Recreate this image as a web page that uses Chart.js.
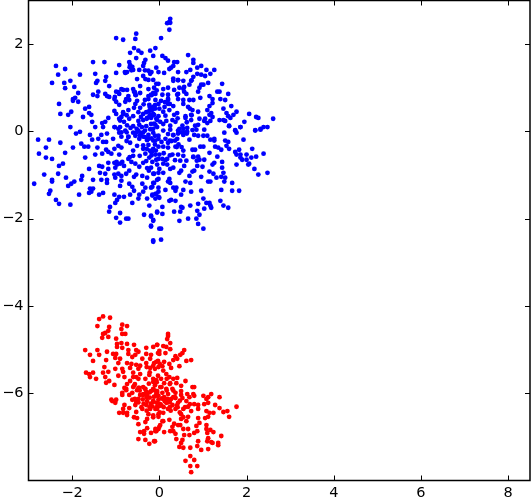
<!DOCTYPE html>
<html lang="en">
<head>
  <meta charset="UTF-8" />
  <title>Two clusters</title>
  <script src="https://cdn.jsdelivr.net/npm/chart.js"></script>
  <style>
    body { margin: 0; padding: 0; background: #fff; }
    canvas { display: block; }
  </style>
</head>
<body>
  <canvas id="chart" width="531" height="497"></canvas>

  <script>
    const xTickValues = [-2, 0, 2, 4, 6, 8];
    const yTickValues = [-6, -4, -2, 0, 2];

    // values, [x, y]
    const bluePoints = [
      [-2.46,1.11],[-2.37,1.50],[-2.32,1.30],[-2.16,1.43],[-2.18,1.11],[-2.04,1.16],[-2.16,0.99],[-1.95,1.02],
      [-1.82,1.30],[-1.86,0.88],[-1.93,0.77],[-1.98,0.74],[-1.86,0.68],[-1.98,0.70],[-2.30,0.63],[-2.27,0.40],
      [-2.09,0.38],[-2.02,0.45],[-1.70,0.52],[-1.61,0.56],[-1.61,0.42],[-1.56,0.38],[-1.75,0.33],[-2.04,0.10],
      [-1.52,1.59],[-1.26,1.59],[-1.47,1.32],[-1.42,1.16],[-1.45,1.11],[-1.22,1.25],[-1.24,1.16],[-1.15,1.04],
      [-1.40,0.91],[-1.52,0.84],[-1.42,0.81],[-1.24,0.86],[-1.20,0.81],[-1.15,0.79],[-0.99,0.91],[-0.87,0.97],
      [-0.83,0.95],[-0.74,0.95],[-0.92,0.86],[-0.71,0.81],[-0.76,0.74],[-0.69,0.72],[-0.78,0.68],[-1.03,0.74],
      [-0.99,0.68],[-0.92,0.61],[-1.03,0.47],[-0.99,0.40],[-0.83,0.40],[-0.71,0.49],[-0.92,0.29],[-0.87,0.33],
      [-1.17,0.31],[-1.24,0.22],[-1.31,0.19],[-1.47,0.10],[-1.54,0.22],[-0.99,2.14],[-0.83,2.10],[-0.53,2.24],
      [-0.55,2.12],[-0.58,1.91],[-0.48,1.85],[-0.67,1.80],[-0.41,1.80],[-0.53,1.68],[-0.32,1.64],[-0.21,1.85],
      [-0.09,1.91],[-0.14,1.73],[-0.92,1.52],[-0.69,1.59],[-0.67,1.52],[-0.62,1.48],[-0.99,1.34],[-0.78,1.34],
      [-0.74,1.36],[-0.60,1.41],[-0.35,1.57],[-0.37,1.50],[-0.46,1.41],[-0.37,1.27],[-0.25,1.39],[-0.07,1.46],
      [-0.21,1.32],[-0.02,1.36],[-0.51,1.20],[-0.32,1.20],[-0.25,1.18],[-0.44,1.04],[-0.60,0.97],[-0.58,0.91],
      [-0.55,0.84],[-0.44,0.88],[-0.25,0.97],[-0.12,1.00],[-0.14,0.88],[-0.02,1.09],[-0.25,0.81],[-0.51,0.70],
      [-0.55,0.63],[-0.58,0.54],[-0.44,0.54],[-0.25,0.74],[-0.23,0.61],[-0.09,0.72],[-0.02,0.63],[-0.37,0.40],
      [-0.23,0.47],[-0.12,0.38],[-0.60,0.35],[-0.69,0.29],[-0.81,0.22],[-1.03,0.10],[-0.37,0.26],[-0.28,0.31],
      [-0.05,0.26],[-0.19,0.17],[-0.46,0.15],[-0.60,0.12],[-0.90,0.10],[-1.29,0.10],
      [0.25,2.58],[0.23,2.51],[0.18,2.48],[0.25,2.49],[0.23,2.33],[0.04,2.14],[0.66,1.75],[0.07,1.73],
      [0.14,1.68],[0.20,1.62],[0.34,1.59],[0.41,1.59],[0.78,1.64],[0.78,1.57],[0.96,1.50],[0.32,1.50],
      [0.27,1.46],[0.23,1.43],[0.87,1.46],[1.08,1.41],[1.26,1.41],[0.43,1.36],[0.62,1.36],[0.71,1.41],
      [0.11,1.34],[0.87,1.32],[0.96,1.30],[1.05,1.27],[1.17,1.32],[0.78,1.25],[0.32,1.16],[0.43,1.18],
      [0.55,1.16],[0.73,1.16],[1.12,1.11],[1.44,1.09],[0.69,1.07],[0.57,1.02],[0.96,1.07],[1.01,1.07],
      [0.92,1.00],[0.46,1.00],[0.20,1.00],[0.09,0.97],[-0.07,1.09],[-0.14,1.18],[0.34,0.95],[0.89,0.91],
      [1.33,0.91],[1.38,0.91],[1.58,0.86],[0.57,0.91],[0.62,0.86],[1.15,0.81],[1.22,0.74],[1.40,0.74],
      [1.51,0.72],[0.94,0.77],[0.41,0.84],[0.20,0.84],[0.07,0.84],[0.43,0.74],[0.55,0.72],[0.69,0.72],
      [0.78,0.72],[0.20,0.72],[-0.09,0.86],[-0.19,0.84],[1.22,0.65],[1.15,0.58],[1.65,0.58],[1.47,0.52],
      [0.55,0.63],[0.20,0.63],[0.32,0.58],[0.66,0.56],[0.76,0.49],[0.89,0.45],[1.10,0.49],[1.19,0.42],
      [1.54,0.42],[1.77,0.45],[2.06,0.40],[1.58,0.35],[1.70,0.38],[1.63,0.31],[2.22,0.33],[2.27,0.31],
      [2.61,0.29],[1.95,0.22],[1.86,0.10],[1.74,0.03],[1.60,0.13],[1.38,0.26],[1.47,0.26],[1.51,0.24],
      [1.05,0.29],[0.92,0.29],[1.22,0.33],[1.15,0.38],[1.03,0.24],[1.17,0.24],[1.10,0.19],[0.89,0.15],
      [0.82,0.13],[0.73,0.38],[0.73,0.26],[0.60,0.35],[0.60,0.31],[0.41,0.42],[0.23,0.49],[0.34,0.38],
      [0.09,0.45],[0.00,0.52],[-0.14,0.56],[0.37,0.22],[0.53,0.13],[0.25,0.13],[0.16,0.24],[-0.02,0.35],
      [-0.14,0.40],[-0.19,0.31],[-0.07,0.29],[0.09,0.17],[-0.09,0.15],[0.64,0.08],[0.76,0.03],[0.46,0.06],
      [2.20,0.03],[2.32,0.06],[2.39,0.10],[2.48,0.10],
      [-2.78,-0.19],[-2.53,-0.19],[-2.27,-0.26],[-2.60,-0.37],[-2.76,-0.51],[-2.16,-0.49],[-1.98,-0.37],[-2.60,-0.60],
      [-2.46,-0.63],[-2.21,-0.74],[-2.30,-0.79],[-2.64,-0.99],[-2.32,-0.97],[-2.46,-1.11],[-2.46,-1.15],[-2.87,-1.20],
      [-2.14,-1.06],[-1.95,-1.15],[-2.02,-1.20],[-2.09,-1.25],[-2.50,-1.36],[-2.53,-1.43],[-2.37,-1.57],[-2.30,-1.66],
      [-2.04,-1.68],[-1.84,-1.45],[-1.77,-1.02],[-1.79,-1.11],[-1.61,-0.86],[-1.70,-0.60],[-1.47,-0.53],[-1.79,-0.28],
      [-1.72,-0.35],[-1.63,-0.35],[-1.42,-0.37],[-1.91,-0.05],[-1.82,-0.01],[-1.59,-0.08],[-1.54,-0.19],[-1.40,-0.17],
      [-1.31,-0.51],[-1.22,-0.42],[-1.17,-0.47],[-1.10,-0.51],[-1.03,-0.40],[-0.94,-0.33],[-1.29,-0.24],[-1.22,-0.24],
      [-0.87,-0.37],[-0.92,-0.53],[-0.67,-0.26],[-1.33,-0.08],[-1.20,-0.05],[-1.06,-0.17],[-0.92,-0.03],[-0.87,-0.12],
      [-0.78,0.02],[-0.71,-0.12],[-0.60,-0.03],[-0.48,0.02],[-0.46,-0.17],[-0.37,-0.12],[-0.25,-0.08],[-0.14,-0.03],
      [-0.02,-0.17],[-0.51,-0.33],[-0.37,-0.40],[-0.25,-0.31],[-0.14,-0.40],[-0.02,-0.35],[-0.32,-0.51],[-0.23,-0.60],
      [-0.09,-0.53],[-0.02,-0.63],[-0.60,-0.56],[-0.71,-0.63],[-0.64,-0.70],[-0.55,-0.74],[-0.46,-0.81],[-0.37,-0.72],
      [-1.17,-0.72],[-1.03,-0.72],[-0.97,-0.76],[-1.01,-0.83],[-1.17,-0.86],[-1.38,-0.79],[-1.31,-0.81],[-0.81,-0.79],
      [-0.69,-0.90],[-1.36,-0.95],[-1.24,-0.97],[-1.03,-0.99],[-0.94,-0.97],[-1.01,-1.06],[-0.87,-1.02],[-0.76,-0.97],
      [-0.53,-0.99],[-0.58,-1.04],[-0.39,-1.02],[-0.28,-1.06],[-0.14,-0.97],[-0.02,-0.95],[-1.52,-1.11],[-1.33,-1.11],
      [-1.20,-1.11],[-1.20,-1.18],[-0.87,-1.13],[-0.90,-1.25],[-0.69,-1.20],[-0.62,-1.27],[-0.58,-1.36],[-0.39,-1.20],
      [-0.32,-1.29],[-0.37,-1.38],[-0.14,-1.18],[-0.19,-1.29],[-0.05,-1.11],[-0.02,-1.29],[-1.59,-1.31],[-1.52,-1.31],
      [-1.56,-1.38],[-1.61,-1.41],[-1.38,-1.45],[-1.29,-1.41],[-1.03,-1.45],[-0.92,-1.50],[-0.81,-1.50],[-0.97,-1.57],
      [-1.01,-1.64],[-1.13,-1.73],[-1.15,-1.84],[-0.90,-1.87],[-0.99,-1.98],[-0.90,-2.09],[-0.76,-2.00],[-0.71,-2.00],
      [-0.67,-1.45],[-0.46,-1.45],[-0.48,-1.54],[-0.62,-1.64],[-0.28,-1.54],[-0.16,-1.45],[-0.07,-1.43],[-0.02,-1.50],
      [-0.23,-1.70],[-0.05,-1.84],[-0.35,-1.91],[-0.19,-1.93],[-0.14,-2.03],[-0.19,-2.16],[-0.14,-2.53],[0.00,-2.23],
      [1.60,0.12],[1.86,0.10],[1.49,-0.03],[1.74,0.02],[1.77,-0.03],[2.20,0.02],[2.32,0.04],[1.93,-0.19],
      [1.51,-0.21],[1.58,-0.24],[1.54,-0.33],[1.60,-0.40],[2.13,-0.40],[2.39,-0.51],[1.83,-0.42],[1.74,-0.47],
      [1.77,-0.53],[1.86,-0.53],[2.00,-0.53],[1.86,-0.60],[1.90,-0.65],[2.00,-0.65],[2.11,-0.60],[2.22,-0.58],
      [2.06,-0.74],[2.04,-0.76],[1.77,-0.76],[2.18,-0.86],[2.27,-0.99],[2.48,-0.95],[1.67,-1.18],[1.67,-1.36],
      [1.83,-1.36],[1.42,-1.34],[1.40,-1.59],[1.47,-1.70],[1.58,-1.75],[1.44,-0.70],[1.33,-0.58],[1.44,-0.83],
      [1.47,-0.95],[1.42,-1.04],[1.51,-1.06],[1.49,-1.15],[1.31,-1.06],[1.24,-0.97],[1.15,-0.92],[1.17,-1.15],
      [1.12,-1.15],[1.22,-0.76],[1.26,-0.72],[1.03,-0.65],[0.89,-0.58],[0.92,-0.65],[0.78,-0.58],[0.99,-0.81],
      [0.87,-0.79],[0.80,-0.90],[0.76,-0.92],[0.69,-1.02],[0.96,-1.04],[0.57,-0.79],[0.50,-0.90],[0.46,-0.95],
      [0.32,-0.83],[0.25,-0.86],[0.60,-1.15],[0.71,-1.18],[0.39,-1.29],[0.32,-1.29],[0.37,-1.36],[0.55,-1.34],
      [0.50,-1.45],[0.73,-1.38],[0.96,-1.36],[0.14,-1.34],[-0.02,-1.38],[-0.09,-1.43],[-0.16,-1.47],[0.00,-1.52],
      [-0.09,-1.54],[1.01,-1.54],[1.08,-1.64],[1.15,-1.64],[0.89,-1.66],[1.17,-1.70],[1.19,-1.75],[1.03,-1.77],
      [0.71,-1.70],[0.53,-1.75],[0.50,-1.73],[0.48,-1.84],[0.34,-1.84],[0.37,-1.59],[0.27,-1.57],[0.23,-1.59],
      [0.07,-1.73],[-0.05,-1.86],[0.07,-1.89],[-0.19,-1.95],[-0.14,-2.05],[0.46,-2.05],[0.66,-2.00],[0.85,-2.00],
      [0.89,-2.12],[1.01,-2.23],[0.87,-1.82],[0.92,-1.91],[0.04,-2.23],[-0.19,-2.18],[0.04,-2.48],[-0.14,-2.50],
      [0.20,-1.15],[0.25,-1.18],[0.23,-1.09],[0.09,-0.95],[0.00,-0.86],[-0.12,-0.97],[-0.02,-1.09],[-0.16,-1.27],
      [-0.12,-1.18],[-0.19,-0.83],[0.09,-0.74],[0.18,-0.76],[0.07,-0.63],[-0.07,-0.65],[-0.16,-0.70],[0.18,-0.63],
      [0.30,-0.53],[0.43,-0.53],[0.55,-0.56],[0.48,-0.67],[0.62,-0.67],[0.55,-0.44],[0.76,-0.42],[0.82,-0.42],
      [0.94,-0.35],[1.01,-0.35],[1.15,-0.49],[1.28,-0.35],[1.35,-0.37],[1.42,-0.42],[1.26,-0.17],[1.26,-0.21],
      [1.10,-0.10],[1.17,-0.19],[0.89,-0.10],[1.01,-0.10],[1.03,0.04],[0.85,0.04],[0.80,-0.08],[0.69,-0.19],
      [0.55,-0.08],[0.41,-0.17],[0.37,-0.35],[0.20,-0.37],[0.09,-0.35],[0.00,-0.53],[-0.14,-0.44],[-0.09,-0.21],
      [-0.02,-0.10],[0.09,0.02],[-0.14,0.06],[0.25,0.04],[0.32,-0.08],[0.43,-0.05],[0.55,0.06],[0.64,-0.01],
      [0.14,-0.17],[0.20,-0.26],
      [-0.30,0.12],[-0.21,0.05],[-0.33,0.02],[-0.42,-0.04],[-0.10,-0.10],[-0.28,-0.20],[-0.18,-0.16],[-0.05,0.10],
      [0.02,0.22],[-0.30,0.44],[-0.16,0.50],[-0.36,0.62],[-0.10,0.60],[0.04,0.70],[-0.33,0.72],[-0.42,0.33],
      [-0.48,0.44],[-0.12,0.18],[0.14,0.36],[0.12,0.56],[0.30,0.26],[0.42,0.30],[0.20,-0.06],[0.05,-0.24],
      [-0.55,-0.10],[-0.66,0.08],[-0.74,0.14],[-0.48,0.24],[-0.75,-0.22],[-0.60,-0.44],[-0.45,-0.56],[-0.30,-0.68],
      [-0.18,-0.48],[-0.05,-0.76],[-0.28,-0.84],[-0.10,-0.30],[0.10,-0.50],[0.28,-0.22],[0.44,-0.30],[-0.85,-0.70],
      [-0.52,0.06],[-0.40,0.10],[-0.08,-0.44],[0.14,-0.66],[-0.24,-0.90],[0.36,-0.66],
      [-0.18,0.48],[-0.29,0.29],[-0.14,0.37],[-0.22,0.56],[-0.10,0.52],[-0.22,0.37],[-0.56,0.90],[-0.54,0.83],
      [-0.14,0.86],[-0.06,0.94],[-0.18,0.83],[-0.75,0.37],[-0.83,0.44],[-0.90,0.25],[-1.02,0.79],[-0.94,0.90],
      [-0.68,1.47],[-0.64,1.40],[-0.33,1.40],[-0.18,1.36],[-0.79,1.36],[0.32,1.21],[0.43,1.17],[0.55,0.98],
      [0.74,1.17],[0.24,0.63],[0.20,0.75],[0.13,0.67],[0.43,0.86],[0.70,0.52],[0.74,0.37],[0.63,0.21],
      [0.59,-0.02],[0.51,-0.02],[0.63,-0.05],[0.43,0.02],[0.32,-0.09],[0.24,-0.21],[0.36,-0.21],[-0.37,-0.02],
      [-0.45,-0.09],[-0.33,-0.13],[-0.25,-0.17],[-0.14,-0.21],[-0.52,-0.02],[-0.75,-0.02],[-0.71,-0.13],[-0.87,-0.02],
      [-0.94,0.06],[-1.02,0.10],[-0.22,-0.44],[-0.29,-0.40],[-0.18,-0.55],[-0.37,-0.32],[-0.68,-0.59],[-0.90,-0.74],
      [-0.98,-0.70],[0.78,-0.59],[0.86,-0.67],[0.40,-0.36],[0.51,-0.36],[0.24,-0.55]
    ];

    const redPoints = [
      [-1.29,-4.24],[-1.38,-4.30],[-1.13,-4.27],[-1.42,-4.46],[-1.15,-4.48],[-0.85,-4.43],[-0.74,-4.46],[-0.87,-4.53],
      [-1.17,-4.57],[-1.24,-4.62],[-1.29,-4.64],[-0.85,-4.64],[-0.78,-4.64],[-1.17,-4.71],[-1.31,-4.73],[-0.99,-4.75],
      [-0.87,-4.85],[-0.97,-4.87],[-0.97,-4.94],[-0.74,-4.87],[-0.58,-4.89],[-0.85,-4.96],[-1.70,-5.01],[-1.42,-5.01],
      [-1.59,-5.12],[-1.38,-5.12],[-1.20,-5.05],[-1.52,-5.26],[-1.22,-5.24],[-1.06,-5.10],[-0.99,-5.10],[-1.01,-5.19],
      [-0.71,-5.01],[-0.71,-5.10],[-0.53,-5.01],[-0.48,-5.05],[-0.30,-4.96],[-0.14,-4.94],[-0.05,-4.89],[-0.55,-5.12],
      [-0.30,-5.10],[-0.19,-5.12],[-0.03,-5.08],[-0.90,-5.21],[-0.62,-5.17],[-0.39,-5.21],[-0.21,-5.21],[-1.26,-5.40],
      [-0.94,-5.31],[-0.74,-5.31],[-0.64,-5.33],[-0.53,-5.35],[-0.44,-5.37],[-1.01,-5.44],[-0.85,-5.44],[-0.67,-5.42],
      [-0.48,-5.44],[-0.30,-5.31],[-0.12,-5.31],[-0.03,-5.26],[-0.21,-5.42],[-1.68,-5.53],[-1.61,-5.56],[-1.52,-5.53],
      [-1.59,-5.63],[-1.45,-5.67],[-1.29,-5.53],[-1.17,-5.51],[-1.24,-5.63],[-1.15,-5.72],[-1.22,-5.76],[-1.03,-5.81],
      [-0.94,-5.60],[-0.83,-5.51],[-0.80,-5.63],[-0.60,-5.53],[-0.53,-5.63],[-0.44,-5.56],[-0.67,-5.72],[-0.74,-5.79],
      [-0.58,-5.83],[-0.32,-5.67],[-0.23,-5.58],[-0.14,-5.74],[-0.03,-5.60],[-0.85,-5.99],[-0.76,-5.90],[-0.46,-5.88],
      [-0.37,-5.86],[-0.30,-5.97],[-0.14,-5.90],[-0.05,-5.99],[-0.62,-5.99],
      [-0.80,-5.88],[-0.76,-5.93],[-0.85,-6.04],[-0.69,-6.04],[-0.60,-5.86],[-0.48,-5.88],[-0.51,-5.93],[-1.10,-6.15],
      [-1.08,-6.18],[-0.99,-6.15],[-1.01,-6.22],[-0.62,-6.15],[-0.48,-6.13],[-0.53,-6.20],[-0.55,-6.27],[-0.80,-6.27],
      [-0.69,-6.34],[-0.83,-6.36],[-0.92,-6.45],[-0.83,-6.45],[-0.74,-6.45],[-0.74,-6.50],[-0.53,-6.43],[-0.58,-6.55],
      [-0.51,-6.57],[-0.39,-6.36],[-0.28,-6.04],[-0.37,-6.04],[-0.32,-5.90],[-0.19,-5.95],[-0.07,-6.02],[-0.28,-6.18],
      [-0.14,-6.20],[-0.02,-6.15],[-0.30,-6.27],[-0.21,-6.36],[-0.09,-6.36],[0.00,-6.29],[-0.25,-6.48],[-0.14,-6.55],
      [-0.02,-6.48],[-0.28,-6.59],[-0.32,-6.66],[-0.48,-6.71],[-0.28,-6.80],[-0.44,-6.89],[-0.35,-6.87],[-0.35,-6.93],
      [-0.19,-6.91],[-0.09,-6.87],[-0.09,-6.82],[0.00,-6.77],[-0.48,-7.05],[-0.32,-7.07],[-0.23,-7.16],[-0.12,-7.10],
      [0.20,-4.64],[0.20,-4.69],[0.18,-4.76],[0.25,-4.85],[-0.05,-4.89],[0.09,-4.92],[0.16,-4.94],[0.25,-4.99],
      [0.00,-5.03],[0.00,-5.10],[0.14,-5.08],[0.57,-5.01],[0.53,-5.08],[0.48,-5.12],[0.37,-5.15],[0.41,-5.21],
      [0.32,-5.24],[0.62,-5.26],[0.73,-5.24],[-0.07,-5.28],[0.11,-5.28],[0.23,-5.33],[0.46,-5.38],[0.07,-5.38],
      [-0.02,-5.40],[0.27,-5.42],[-0.10,-5.44],[0.16,-5.56],[0.23,-5.63],[0.04,-5.67],[0.32,-5.67],[0.41,-5.65],
      [-0.07,-5.70],[0.11,-5.77],[0.25,-5.77],[0.39,-5.77],[0.60,-5.72],[0.50,-5.83],[0.76,-5.86],[0.80,-5.86],
      [0.02,-5.86],[0.16,-5.90],[0.30,-5.90],[0.50,-5.95],[-0.05,-5.95],[0.07,-5.99],[0.20,-6.02],[0.37,-5.99],
      [0.50,-6.04],[0.64,-6.02],[0.78,-6.02],[0.80,-6.06],[1.01,-6.06],[1.19,-6.02],[1.38,-6.09],[1.12,-6.09],
      [1.08,-6.13],[-0.05,-6.06],[0.11,-6.09],[0.32,-6.09],
      [1.77,-6.31],[1.60,-6.54],[1.56,-6.41],[1.47,-6.43],[1.38,-6.34],[1.28,-6.27],[1.24,-6.45],[1.15,-6.45],
      [1.08,-6.41],[1.12,-6.54],[1.05,-6.57],[0.89,-6.57],[0.92,-6.68],[0.66,-6.54],[0.89,-6.27],[0.80,-6.25],
      [0.62,-6.18],[0.53,-6.11],[0.66,-6.31],[0.55,-6.36],[0.50,-6.59],[0.62,-6.64],[0.48,-6.73],[0.66,-6.82],
      [0.55,-6.82],[0.85,-6.75],[0.80,-6.91],[0.87,-6.87],[1.08,-6.73],[1.08,-6.82],[1.10,-6.91],[1.17,-6.84],
      [1.24,-6.89],[1.42,-6.98],[1.12,-7.03],[1.10,-7.10],[1.19,-7.12],[1.22,-7.14],[1.35,-7.14],[1.35,-7.19],
      [0.89,-7.10],[0.87,-7.21],[0.96,-7.30],[1.12,-7.28],[0.69,-6.96],[0.57,-6.96],[0.53,-7.07],[0.50,-7.14],
      [0.46,-7.23],[0.55,-7.25],[0.71,-7.25],[0.39,-7.05],[0.37,-6.93],[0.32,-6.87],[0.30,-6.77],[0.25,-6.87],
      [0.11,-6.89],[0.02,-6.73],[-0.02,-6.82],[-0.07,-6.87],[-0.10,-7.10],[0.09,-6.64],[0.34,-6.70],[0.43,-6.73],
      [0.71,-7.44],[0.80,-7.53],[0.60,-7.55],[0.87,-7.67],[0.71,-7.67],[0.73,-7.81],[0.23,-6.61],[-0.02,-6.54],
      [0.07,-6.64],[0.50,-6.48],[0.37,-6.36],[0.20,-6.36],[0.09,-6.45],[-0.05,-6.36],[0.02,-6.25],[0.16,-6.22],
      [0.30,-6.27],[0.43,-6.22],[0.27,-6.13],[0.37,-6.11],[0.18,-6.13],[0.69,-6.09],[0.89,-6.36],[0.73,-6.41],
      [1.03,-6.25],[1.12,-6.22],
      [-0.22,-6.10],[-0.12,-6.08],[-0.20,-6.24],[-0.06,-6.22],[-0.38,-6.14],[-0.16,-6.30],[0.06,-6.12],[0.12,-6.18],
      [0.24,-6.20],[-0.36,-6.24],[-0.44,-6.04],[-0.10,-5.82],[-0.24,-5.78],[0.10,-6.32],[0.26,-6.40],[0.42,-6.32],
      [-0.60,-5.63],[-0.48,-5.67],[-0.56,-5.79],[-0.22,-5.52],[-0.14,-5.67],[-0.06,-5.75],[-0.33,-5.90],[-0.22,-5.98],
      [-0.10,-5.94],[0.05,-5.86],[0.17,-5.94],[0.32,-5.94],[-0.29,-6.09],[-0.14,-6.17],[-0.02,-6.06],[0.09,-6.13],
      [0.20,-6.21],[0.36,-6.09],[0.47,-6.17],[-0.22,-6.32],[-0.06,-6.32],[0.05,-6.28],[0.24,-6.32],[0.40,-6.28],
      [0.59,-6.32],[0.70,-6.25],[-0.14,-6.51],[0.01,-6.44],[0.47,-6.44],[0.55,-6.55],[-0.29,-6.40],[-0.41,-6.32],
      [-0.48,-6.21],[-0.56,-6.13],[-0.37,-6.02],[-0.45,-5.94],[0.09,-5.48],[0.01,-5.33],[-0.29,-5.40],[-0.14,-5.37],
      [0.17,-5.67],[0.24,-5.79]
    ];

    const toXY = pts => pts.map(p => ({ x: p[0], y: p[1] }));

    // matplotlib style frame with ticks pointing inwards on all four sides
    const frameTicks = {
      id: 'frameTicks',
      afterDraw(chart) {
        const { ctx, chartArea: a, scales } = chart;
        const len = 5;
        ctx.save();
        ctx.strokeStyle = '#000';
        ctx.lineWidth = 1;
        xTickValues.forEach(v => {
          const px = Math.round(scales.x.getPixelForValue(v)) + 0.5;
          ctx.beginPath();
          ctx.moveTo(px, a.bottom); ctx.lineTo(px, a.bottom - len);
          ctx.moveTo(px, a.top); ctx.lineTo(px, a.top + len);
          ctx.stroke();
        });
        yTickValues.forEach(v => {
          const py = Math.round(scales.y.getPixelForValue(v)) + 0.5;
          ctx.beginPath();
          ctx.moveTo(a.left, py); ctx.lineTo(a.left + len, py);
          ctx.moveTo(a.right, py); ctx.lineTo(a.right - len, py);
          ctx.stroke();
        });
        ctx.lineWidth = 1.5;
        ctx.strokeRect(a.left, a.top, a.right - a.left, a.bottom - a.top);
        ctx.restore();
      }
    };

    const tickFont = { family: 'DejaVu Sans', size: 14.5 };
    const minusLabel = v => String(v).replace('-', '\u2212');

    new Chart(document.getElementById('chart'), {
      type: 'scatter',
      data: {
        datasets: [
          { data: toXY(bluePoints), backgroundColor: '#0000ff', borderWidth: 0, pointRadius: 2.4 },
          { data: toXY(redPoints), backgroundColor: '#ff0000', borderWidth: 0, pointRadius: 2.4 }
        ]
      },
      options: {
        responsive: false,
        animation: false,
        layout: { autoPadding: false, padding: { top: 0.5, right: 1, left: 0, bottom: 0 } },
        plugins: { legend: { display: false }, tooltip: { enabled: false } },
        scales: {
          x: {
            type: 'linear',
            min: -3,
            max: 8.5,
            grid: { display: false, drawTicks: false },
            border: { display: false },
            afterBuildTicks: s => { s.ticks = xTickValues.map(v => ({ value: v })); },
            afterFit: s => { s.height = 16.5; s.paddingLeft = 0; s.paddingRight = 0; },
            ticks: { color: '#000', font: tickFont, padding: 4, maxRotation: 0, autoSkip: false, callback: minusLabel }
          },
          y: {
            type: 'linear',
            min: -8,
            max: 3,
            grid: { display: false, drawTicks: false },
            border: { display: false },
            afterBuildTicks: s => { s.ticks = yTickValues.map(v => ({ value: v })); },
            afterFit: s => { s.width = 28.5; s.paddingTop = 0; s.paddingBottom = 0; },
            ticks: { color: '#000', font: tickFont, padding: 5, autoSkip: false, callback: minusLabel }
          }
        }
      },
      plugins: [frameTicks]
    });
  </script>
</body>
</html>
